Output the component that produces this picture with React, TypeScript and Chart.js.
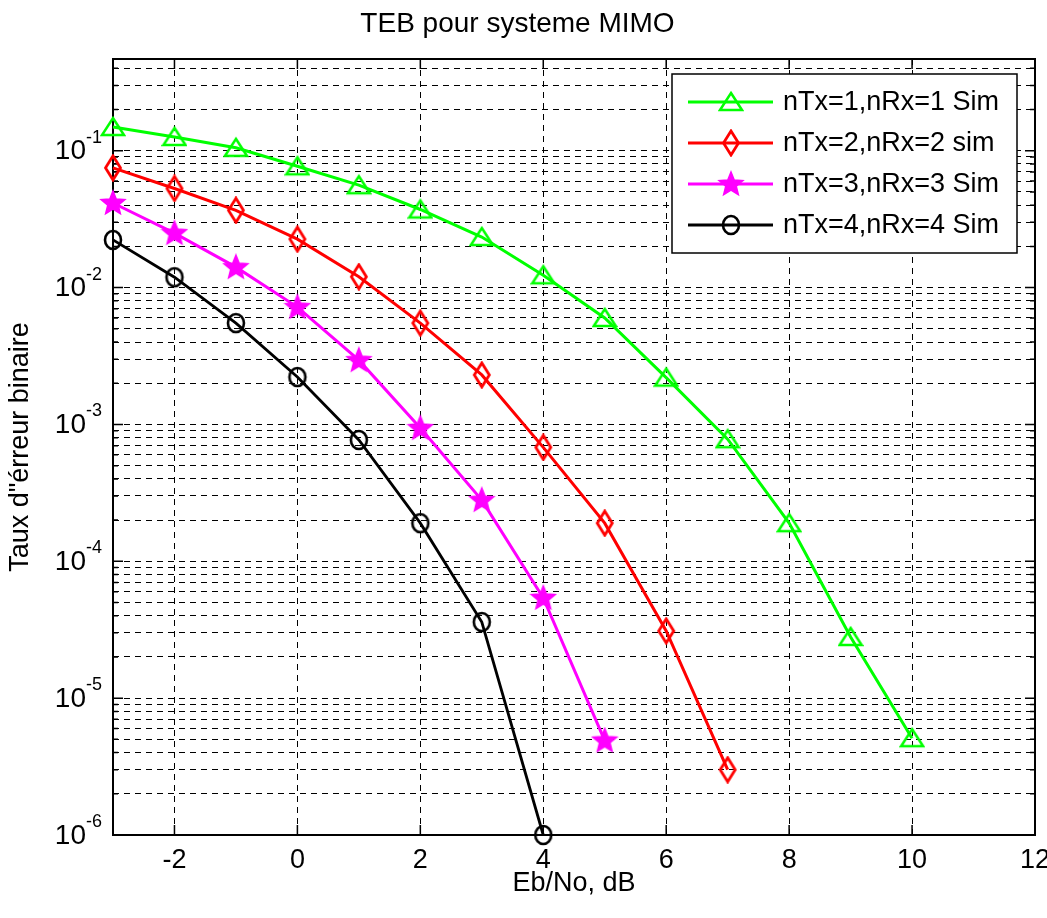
import React, { useEffect, useRef } from "react";
import { Chart, registerables } from "chart.js";

Chart.register(...registerables);

// ---------- data ----------
const chartTitle = "TEB pour systeme MIMO";
const xTitle = "Eb/No, dB";
const yTitle = 'Taux d"érreur binaire';
const seriesLabels = [
  "nTx=1,nRx=1 Sim",
  "nTx=2,nRx=2 sim",
  "nTx=3,nRx=3 Sim",
  "nTx=4,nRx=4 Sim",
];
const seriesColors = ["#00ff00", "#ff0000", "#ff00ff", "#000000"];

const ebNo1 = [-3, -2, -1, 0, 1, 2, 3, 4, 5, 6, 7, 8, 9, 10];
const ber1 = [0.149, 0.126, 0.105, 0.077, 0.056, 0.0372, 0.0234, 0.0123, 0.006, 0.0022, 0.00078, 0.00019, 2.8e-5, 5.1e-6];
const ebNo2 = [-3, -2, -1, 0, 1, 2, 3, 4, 5, 6, 7];
const ber2 = [0.075, 0.053, 0.0367, 0.0226, 0.012, 0.0055, 0.0023, 0.00068, 0.00019, 3.1e-5, 3.0e-6];
const ebNo3 = [-3, -2, -1, 0, 1, 2, 3, 4, 5];
const ber3 = [0.0415, 0.025, 0.0141, 0.0072, 0.00295, 0.00094, 0.00028, 5.4e-5, 4.9e-6];
const ebNo4 = [-3, -2, -1, 0, 1, 2, 3, 4];
const ber4 = [0.0223, 0.0119, 0.0055, 0.00222, 0.00077, 0.00019, 3.6e-5, 1e-6];

const xTicks = [-2, 0, 2, 4, 6, 8, 10, 12];
const yTickExponents = [-6, -5, -4, -3, -2, -1];
const yGridValues: number[] = [];
for (const e of [-6, -5, -4, -3, -2, -1]) {
  for (let m = 1; m <= 9; m++) {
    const v = Number((m * Math.pow(10, e)).toPrecision(3));
    if (v <= 0.468) yGridValues.push(v);
  }
}

const fontFamily = '"Liberation Sans", Arial, Helvetica, sans-serif';
const FS = 27;

function makeMarker(kind: string, color: string): HTMLCanvasElement {
  const c = document.createElement("canvas");
  const ctx = c.getContext("2d")!;
  if (kind === "triangle") {
    c.width = 26; c.height = 24;
    ctx.strokeStyle = color; ctx.lineWidth = 2.5;
    ctx.beginPath();
    ctx.moveTo(13, 3); ctx.lineTo(24, 20); ctx.lineTo(2, 20); ctx.closePath();
    ctx.stroke();
  } else if (kind === "diamond") {
    c.width = 20; c.height = 28;
    ctx.strokeStyle = color; ctx.lineWidth = 2.8;
    ctx.beginPath();
    ctx.moveTo(10, 2); ctx.lineTo(17.5, 14); ctx.lineTo(10, 26); ctx.lineTo(2.5, 14); ctx.closePath();
    ctx.stroke();
  } else if (kind === "star") {
    c.width = 28; c.height = 28;
    ctx.fillStyle = color; ctx.strokeStyle = color; ctx.lineWidth = 1.5;
    ctx.beginPath();
    for (let k = 0; k < 10; k++) {
      const a = -Math.PI / 2 + (k * Math.PI) / 5;
      const r = k % 2 === 0 ? 12.5 : 5.5;
      const px = 14 + r * Math.cos(a);
      const py = 14.5 + r * Math.sin(a);
      if (k === 0) ctx.moveTo(px, py); else ctx.lineTo(px, py);
    }
    ctx.closePath();
    ctx.fill();
    ctx.stroke();
  } else {
    c.width = 22; c.height = 24;
    ctx.strokeStyle = color; ctx.lineWidth = 2.6;
    ctx.beginPath();
    ctx.ellipse(11, 12, 8, 9, 0, 0, Math.PI * 2);
    ctx.stroke();
  }
  return c;
}

export default function App() {
  const ref = useRef<HTMLCanvasElement>(null);

  useEffect(() => {
    const canvas = ref.current!;
    const markers = [
      makeMarker("triangle", seriesColors[0]),
      makeMarker("diamond", seriesColors[1]),
      makeMarker("star", seriesColors[2]),
      makeMarker("circle", seriesColors[3]),
    ];
    const xs = [ebNo1, ebNo2, ebNo3, ebNo4];
    const ys = [ber1, ber2, ber3, ber4];
    const widths = [3, 3, 3, 2.8];

    const datasets = xs.map((xv, i) => ({
      label: seriesLabels[i],
      data: xv.map((x, j) => ({ x, y: ys[i][j] })),
      borderColor: seriesColors[i],
      backgroundColor: seriesColors[i],
      borderWidth: widths[i],
      pointStyle: markers[i] as any,
      pointRadius: 8,
      tension: 0,
      clip: false as any,
      order: 3 - i,
    }));

    const boxPlugin = {
      id: "matlabBox",
      beforeDatasetsDraw(chart: any) {
        const { ctx, chartArea } = chart;
        const { left, right, top, bottom } = chartArea;
        const sx = chart.scales.x;
        const sy = chart.scales.y;
        ctx.save();
        ctx.strokeStyle = "#000";
        ctx.lineWidth = 2;
        ctx.strokeRect(left, top, right - left, bottom - top);
        ctx.lineWidth = 1.5;
        ctx.beginPath();
        for (const v of xTicks) {
          const px = sx.getPixelForValue(v);
          ctx.moveTo(px, bottom); ctx.lineTo(px, bottom - 10);
          ctx.moveTo(px, top); ctx.lineTo(px, top + 10);
        }
        for (const v of yGridValues) {
          const py = sy.getPixelForValue(v);
          const major = Math.abs(Math.log10(v) - Math.round(Math.log10(v))) < 1e-6;
          const len = major ? 10 : 5;
          ctx.moveTo(left, py); ctx.lineTo(left + len, py);
          ctx.moveTo(right, py); ctx.lineTo(right - len, py);
        }
        ctx.stroke();
        ctx.restore();
      },
      afterDraw(chart: any) {
        const { ctx, chartArea } = chart;
        const sy = chart.scales.y;
        ctx.save();
        ctx.fillStyle = "#000";
        ctx.textBaseline = "middle";
        for (const e of yTickExponents) {
          const py = sy.getPixelForValue(Math.pow(10, e));
          ctx.font = `28px ${fontFamily}`;
          ctx.textAlign = "right";
          ctx.fillText("10", chartArea.left - 27, py + 1);
          ctx.font = `18px ${fontFamily}`;
          ctx.textAlign = "left";
          ctx.fillText(String(e), chartArea.left - 27, py - 13);
        }
        // legend
        const lx = chartArea.right - 363;
        const ly = chartArea.top + 15;
        const w = 345;
        const h = 179;
        ctx.fillStyle = "#fff";
        ctx.fillRect(lx, ly, w, h);
        ctx.strokeStyle = "#000";
        ctx.lineWidth = 1.5;
        ctx.strokeRect(lx, ly, w, h);
        ctx.font = `${FS}px ${fontFamily}`;
        ctx.textAlign = "left";
        ctx.textBaseline = "middle";
        for (let i = 0; i < seriesLabels.length; i++) {
          const ry = ly + 28 + i * 41;
          ctx.strokeStyle = seriesColors[i];
          ctx.lineWidth = widths[i];
          ctx.beginPath();
          ctx.moveTo(lx + 16, ry);
          ctx.lineTo(lx + 101, ry);
          ctx.stroke();
          const m = markers[i];
          ctx.drawImage(m, lx + 59 - m.width / 2, ry - m.height / 2);
          ctx.fillStyle = "#000";
          ctx.fillText(seriesLabels[i], lx + 111, ry + 1);
        }
        ctx.restore();
      },
    };

    const gridOpts = { color: "#000", lineWidth: 1, drawTicks: false };
    const borderOpts = { display: false, dash: [6, 5] };

    const chart = new Chart(canvas, {
      type: "line",
      data: { datasets: datasets as any },
      options: {
        animation: false,
        responsive: true,
        maintainAspectRatio: false,
        layout: { padding: { left: 0, right: 12, top: 0, bottom: 0 } },
        plugins: {
          legend: { display: false },
          tooltip: { enabled: false },
          title: {
            display: true,
            text: chartTitle,
            color: "#000",
            font: { family: fontFamily, size: 28, weight: "normal" as any, lineHeight: 1.2 },
            padding: { top: 7, bottom: 18.4 },
          },
        },
        scales: {
          x: {
            type: "linear",
            min: -3,
            max: 12,
            afterBuildTicks: (s: any) => {
              s.ticks = xTicks.map((v) => ({ value: v }));
            },
            afterFit: (s: any) => {
              s.height = 83;
              s.paddingLeft = 0;
              s.paddingRight = 0;
            },
            ticks: {
              color: "#000",
              font: { family: fontFamily, size: FS },
              padding: 9,
              autoSkip: false,
              maxRotation: 0,
              callback: (v: any) => String(v),
            },
            grid: gridOpts,
            border: borderOpts,
            title: {
              display: true,
              text: xTitle,
              color: "#000",
              font: { family: fontFamily, size: FS },
              padding: { top: 0, bottom: 18 },
            },
          },
          y: {
            type: "logarithmic",
            min: 1e-6,
            max: 0.468,
            afterBuildTicks: (s: any) => {
              s.ticks = yGridValues.map((v) => ({ value: v }));
            },
            afterFit: (s: any) => {
              s.width = 113;
              s.paddingTop = 0;
              s.paddingBottom = 0;
            },
            ticks: { display: false },
            grid: gridOpts,
            border: borderOpts,
            title: {
              display: true,
              text: yTitle,
              color: "#000",
              font: { family: fontFamily, size: FS },
              padding: { top: 4, bottom: 0 },
            },
          },
        },
      } as any,
      plugins: [boxPlugin],
    });
    return () => chart.destroy();
  }, []);

  return (
    <div
      style={{
        position: "fixed",
        left: 0,
        top: 0,
        width: 1047,
        height: 918,
        background: "#fff",
      }}
    >
      <canvas ref={ref} />
    </div>
  );
}
